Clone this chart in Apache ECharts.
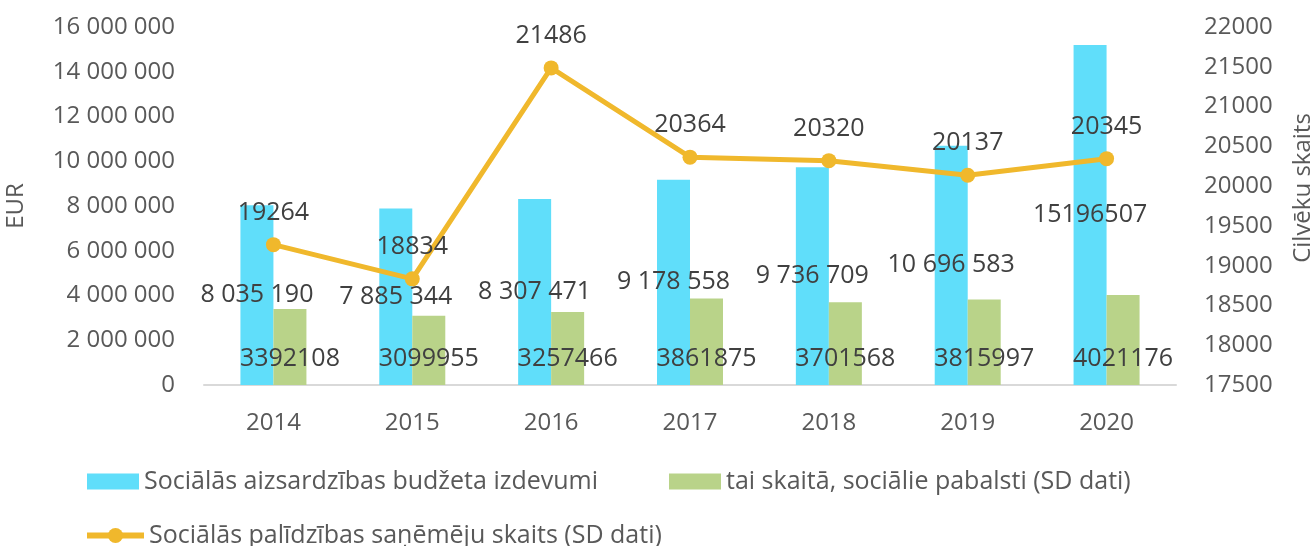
<!DOCTYPE html>
<html>
<head>
<meta charset="utf-8">
<script src="https://cdn.jsdelivr.net/npm/echarts@6/dist/echarts.min.js"></script>
<style>
  html, body { margin: 0; padding: 0; background: #fff; }
  #chart { width: 1316px; height: 546px; }
</style>
</head>
<body>
<div id="chart"></div>
<script>
// Years on the category axis
const years = ['2014', '2015', '2016', '2017', '2018', '2019', '2020'];

// Social protection budget expenditure, EUR
const budgetSpending = [8035190, 7885344, 8307471, 9178558, 9736709, 10696583, 15196507];
// Whether the bar label uses thousands grouping
const budgetLabelGrouped = [true, true, true, true, true, true, false];

// Of which social benefits (SD data), EUR
const socialBenefits = [3392108, 3099955, 3257466, 3861875, 3701568, 3815997, 4021176];

// Number of social assistance recipients (SD data)
const recipients = [19264, 18834, 21486, 20364, 20320, 20137, 20345];

const seriesNames = [
  'Sociālās aizsardzības budžeta izdevumi',
  'tai skaitā, sociālie pabalsti (SD dati)',
  'Sociālās palīdzības saņēmēju skaits (SD dati)'
];

const FONT = '"Open Sans", "Noto Sans", sans-serif';
const AXIS_COLOR = '#595959';
const LABEL_COLOR = '#404040';
const GOLD = '#F0B82C';

function grouped(v) {
  return String(v).replace(/\B(?=(\d{3})+(?!\d))/g, ' ');
}

const chart = echarts.init(document.getElementById('chart'));

const legendText = { fontFamily: FONT, fontSize: 25, color: AXIS_COLOR };

chart.setOption({
  animation: false,
  backgroundColor: '#ffffff',
  textStyle: { fontFamily: FONT },
  grid: { left: 204, right: 140, top: 27, bottom: 161, containLabel: false },
  legend: [
    {
      data: [{ name: seriesNames[0], icon: 'rect' }], left: 87, top: 469, padding: 0,
      itemWidth: 52, itemHeight: 16, textStyle: legendText
    },
    {
      data: [{ name: seriesNames[1], icon: 'rect' }], left: 669, top: 469, padding: 0,
      itemWidth: 52, itemHeight: 16, textStyle: legendText
    },
    {
      data: [seriesNames[2]], left: 84, top: 523, padding: 0,
      itemWidth: 57, itemHeight: 19, textStyle: legendText,
      lineStyle: { width: 6, color: GOLD }
    }
  ],
  graphic: [
    {
      type: 'text', x: 16, y: 206, rotation: Math.PI / 2,
      style: {
        text: 'EUR', fontFamily: FONT, fontSize: 24, fill: AXIS_COLOR,
        align: 'center', verticalAlign: 'middle'
      }
    },
    {
      type: 'text', x: 1303, y: 188, rotation: Math.PI / 2,
      style: {
        text: 'Cilvēku skaits', fontFamily: FONT, fontSize: 24, fill: AXIS_COLOR,
        align: 'center', verticalAlign: 'middle'
      }
    }
  ],
  xAxis: {
    type: 'category',
    data: years,
    axisTick: { show: false },
    axisLine: { lineStyle: { color: '#D9D9D9', width: 2 } },
    axisLabel: { fontFamily: FONT, fontSize: 24, color: AXIS_COLOR, margin: 26 }
  },
  yAxis: [
    {
      type: 'value', min: 0, max: 16000000, interval: 2000000,
      splitLine: { show: false },
      axisLine: { show: false }, axisTick: { show: false },
      axisLabel: {
        fontFamily: FONT, fontSize: 24, color: AXIS_COLOR, margin: 29,
        formatter: v => grouped(v)
      }
    },
    {
      type: 'value', min: 17500, max: 22000, interval: 500,
      splitLine: { show: false },
      axisLine: { show: false }, axisTick: { show: false },
      axisLabel: {
        fontFamily: FONT, fontSize: 24, color: AXIS_COLOR, margin: 28,
        formatter: v => String(v)
      }
    }
  ],
  series: [
    {
      name: seriesNames[0],
      type: 'bar',
      data: budgetSpending,
      barWidth: 33,
      barGap: '0%',
      itemStyle: { color: '#60DEFA' },
      label: {
        show: true, position: 'inside',
        fontFamily: FONT, fontSize: 25, color: LABEL_COLOR,
        formatter: p => budgetLabelGrouped[p.dataIndex] ? grouped(p.value) : String(p.value)
      },
      z: 2
    },
    {
      name: seriesNames[1],
      type: 'bar',
      data: socialBenefits,
      barWidth: 33,
      itemStyle: { color: '#B9D389' },
      label: {
        show: true, position: 'insideBottom', distance: 14,
        fontFamily: FONT, fontSize: 25, color: LABEL_COLOR
      },
      z: 2
    },
    {
      name: seriesNames[2],
      type: 'line',
      yAxisIndex: 1,
      data: recipients,
      symbol: 'circle',
      symbolSize: 15,
      lineStyle: { color: GOLD, width: 5 },
      itemStyle: { color: GOLD },
      label: {
        show: true, position: 'top', distance: 12,
        fontFamily: FONT, fontSize: 25, color: LABEL_COLOR
      },
      z: 5
    }
  ]
});
</script>
</body>
</html>
